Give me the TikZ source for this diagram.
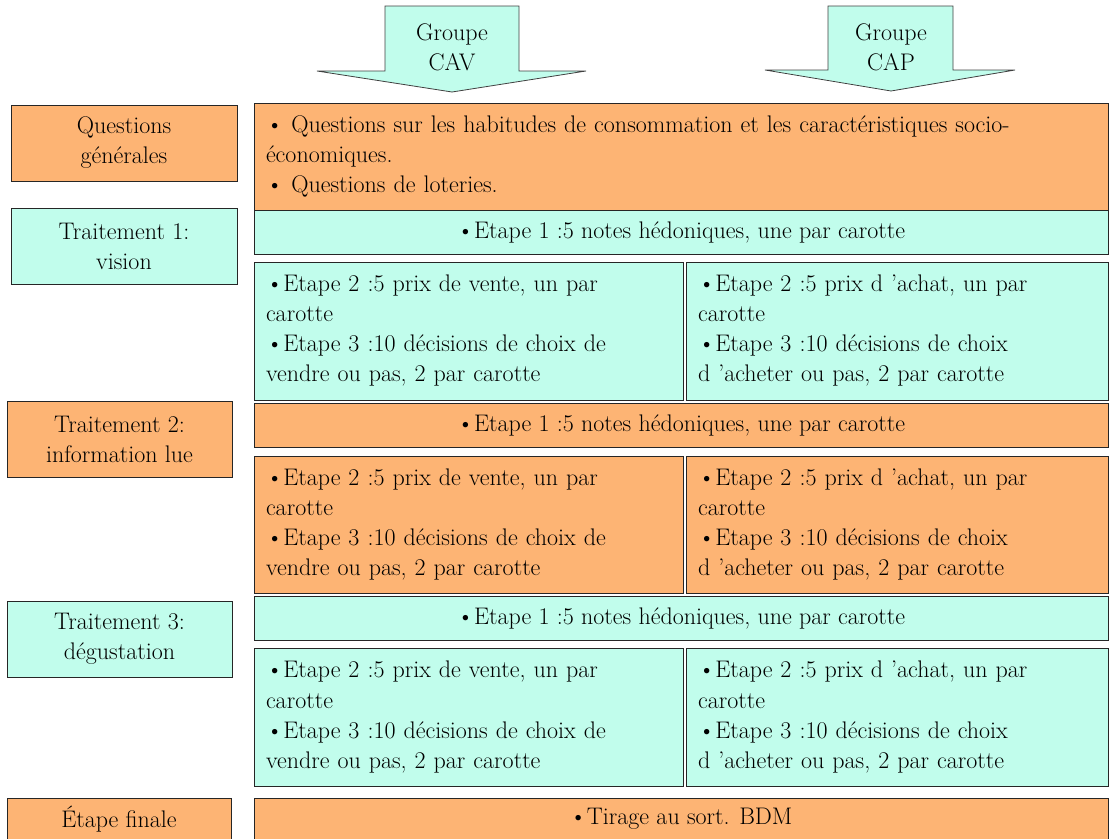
\documentclass[tikz,border=0pt]{standalone}
\usepackage{fontspec}
\definecolor{org}{HTML}{FDB474}
\definecolor{cyn}{HTML}{C1FDEC}
\begin{document}
\begin{tikzpicture}[x=1pt,y=-1pt,
  box/.style={draw=black!85, line width=0.8pt, inner sep=0pt, font=\rmfamily\fontsize{24}{30}\selectfont, align=center},
  lbox/.style={box, align=left, inner xsep=12pt},
  arr/.style={draw=black!75, line width=0.8pt, fill=cyn, line join=miter},
  lab/.style={font=\rmfamily\fontsize{24}{30}\selectfont, align=center, inner sep=0pt}]
\useasboundingbox (0,0) rectangle (1110,838);
\clip (0,0) rectangle (1110,838);
% arrows
\draw[arr] (385,6) -- (519,6) -- (519,71) -- (586,71) -- (452,92) -- (317,71) -- (385,71) -- cycle;
\node[lab] (cav) at (452,47) {Groupe\\CAV};
\draw[arr] (828,6) -- (953,6) -- (953,70) -- (1015,70) -- (891,91) -- (765,70) -- (828,70) -- cycle;
\node[lab] (cap) at (891,47) {Groupe\\CAP};
% left labels
\node[box, fill=org, minimum width=226pt, minimum height=76pt] (lq) at (124,143) {Questions\\générales};
\node[box, fill=cyn, minimum width=226pt, minimum height=76pt] (l1) at (124,246) {Traitement 1:\\vision};
\node[box, fill=org, minimum width=225pt, minimum height=76pt] (l2) at (119.5,439) {Traitement 2:\\information lue};
\node[box, fill=cyn, minimum width=225pt, minimum height=76pt] (l3) at (119.5,639) {Traitement 3:\\dégustation};
\node[box, fill=org, minimum width=224pt, minimum height=42pt] (lf) at (119,819) {Étape finale};
% questions
\node[lbox, fill=org, text width=830pt, minimum height=107pt] (q) at (681,156.5) {• Questions sur les habitudes de consommation et les caractéristiques socio-\\économiques.\\• Questions de loteries.};
% treatment 1
\node[box, fill=cyn, minimum width=854pt, minimum height=44pt] (t1e1) at (681,232) {•Etape 1 :5 notes hédoniques, une par carotte};
\node[lbox, fill=cyn, text width=405pt, minimum height=138pt] (t1v) at (468.5,331) {•Etape 2 :5 prix de vente, un par\\carotte\\•Etape 3 :10 décisions de choix de\\vendre ou pas, 2 par carotte};
\node[lbox, fill=cyn, text width=398pt, minimum height=138pt] (t1a) at (897,331) {•Etape 2 :5 prix d ’achat, un par\\carotte\\•Etape 3 :10 décisions de choix\\d ’acheter ou pas, 2 par carotte};
% treatment 2
\node[box, fill=org, minimum width=854pt, minimum height=44pt] (t2e1) at (681,425) {•Etape 1 :5 notes hédoniques, une par carotte};
\node[lbox, fill=org, text width=405pt, minimum height=137pt] (t2v) at (468.5,524.5) {•Etape 2 :5 prix de vente, un par\\carotte\\•Etape 3 :10 décisions de choix de\\vendre ou pas, 2 par carotte};
\node[lbox, fill=org, text width=398pt, minimum height=137pt] (t2a) at (897,524.5) {•Etape 2 :5 prix d ’achat, un par\\carotte\\•Etape 3 :10 décisions de choix\\d ’acheter ou pas, 2 par carotte};
% treatment 3
\node[box, fill=cyn, minimum width=854pt, minimum height=44pt] (t3e1) at (681,618) {•Etape 1 :5 notes hédoniques, une par carotte};
\node[lbox, fill=cyn, text width=405pt, minimum height=138pt] (t3v) at (468.5,717) {•Etape 2 :5 prix de vente, un par\\carotte\\•Etape 3 :10 décisions de choix de\\vendre ou pas, 2 par carotte};
\node[lbox, fill=cyn, text width=398pt, minimum height=138pt] (t3a) at (897,717) {•Etape 2 :5 prix d ’achat, un par\\carotte\\•Etape 3 :10 décisions de choix\\d ’acheter ou pas, 2 par carotte};
% final
\node[box, fill=org, minimum width=854pt, minimum height=42pt] (fin) at (681,819) {•Tirage au sort. BDM};
\end{tikzpicture}
\end{document}
